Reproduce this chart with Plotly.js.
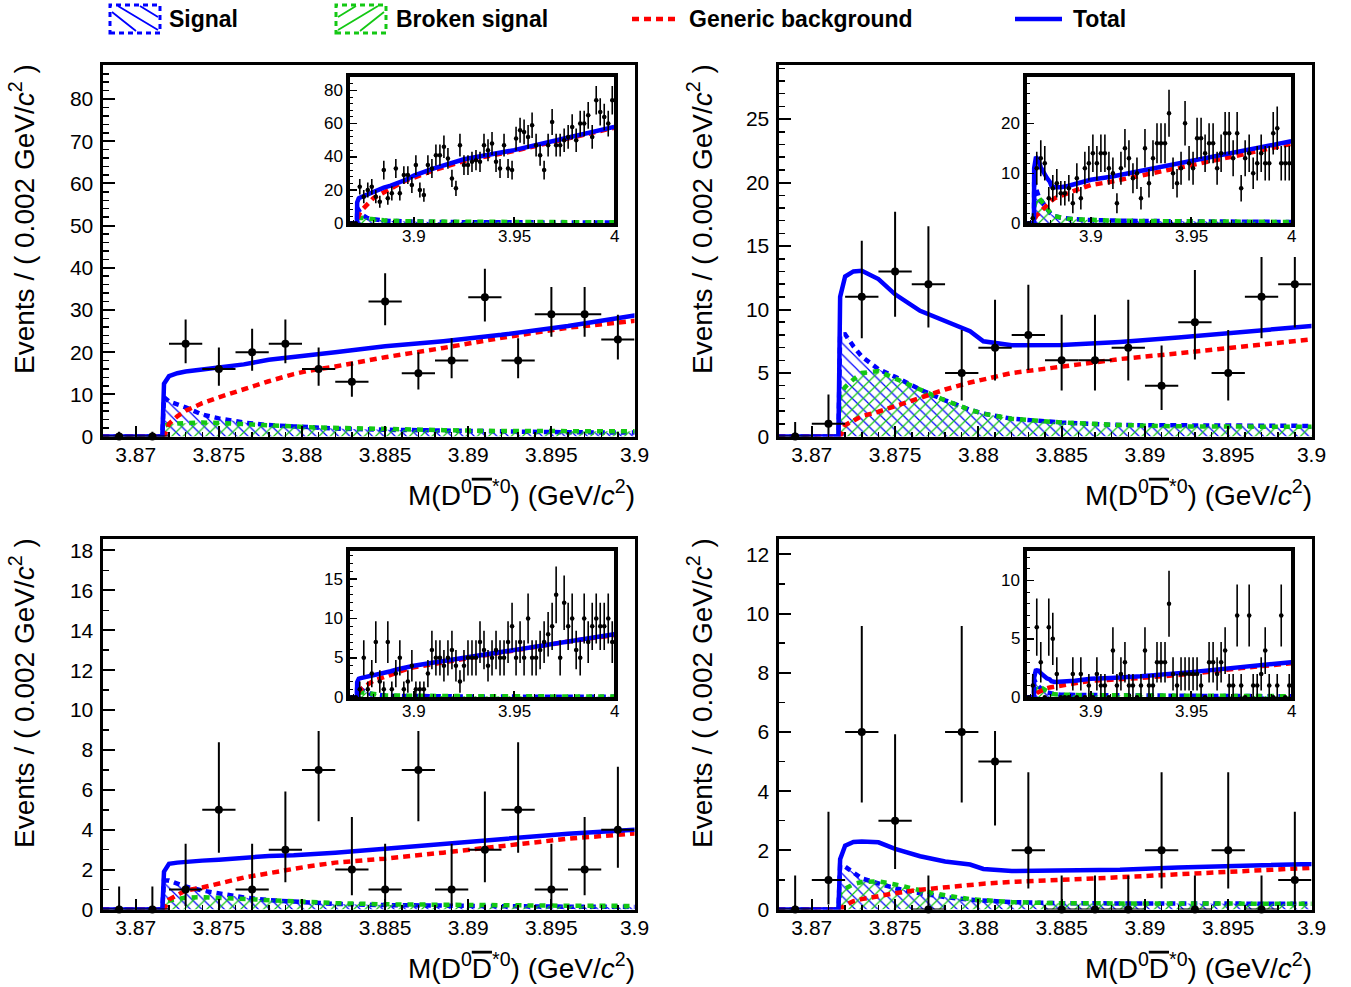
<!DOCTYPE html>
<html><head><meta charset="utf-8">
<script src="https://cdn.plot.ly/plotly-3.0.1.min.js"></script>
<style>html,body{margin:0;padding:0;background:#fff}#chart{width:1351px;height:987px}</style>
</head><body><div id="chart"></div>
<script>
// ---------- data ----------
const binCenters = [3.869,3.871,3.873,3.875,3.877,3.879,3.881,3.883,3.885,3.887,3.889,3.891,3.893,3.895,3.897,3.899];
const insetBinCenters = [3.869,3.871,3.873,3.875,3.877,3.879,3.881,3.883,3.885,3.887,3.889,3.891,3.893,3.895,3.897,3.899,
 3.901,3.903,3.905,3.907,3.909,3.911,3.913,3.915,3.917,3.919,3.921,3.923,3.925,3.927,3.929,3.931,3.933,3.935,3.937,3.939,
 3.941,3.943,3.945,3.947,3.949,3.951,3.953,3.955,3.957,3.959,3.961,3.963,3.965,3.967,3.969,3.971,3.973,3.975,3.977,3.979,
 3.981,3.983,3.985,3.987,3.989,3.991,3.993,3.995,3.997,3.999];

const tlCounts = [0,0,22,16,20,22,16,13,32,15,18,33,18,29,29,23];
const tlErrLo  = [0,0,4.66,3.96,4.43,4.66,3.96,3.56,5.63,3.83,4.20,5.72,4.20,5.36,5.36,4.76];
const tlErrHi  = [1.15,1.15,5.76,5.09,5.55,5.76,5.09,4.70,6.71,4.96,5.32,6.79,5.32,6.44,6.44,5.86];
const tlTail   = [35,20,17,35,33,41,41,46,39,27,21,47,35,35,37,38,37,47,44,48,37,33,47,33,32,51,56,55,52,59,47,41,32,47,61,47,47,50,52,58,50,60,60,65,52,74,67,64,60,74];

const trCounts = [0,1,11,13,12,5,7,8,6,6,7,4,9,5,11,12];
const trErrLo  = [0,0.83,3.27,3.56,3.42,2.16,2.58,2.77,2.38,2.38,2.58,1.91,2.94,2.16,3.27,3.42];
const trErrHi  = [1.15,2.30,4.42,4.70,4.56,3.38,3.77,3.95,3.58,3.58,3.77,3.16,4.11,3.38,4.42,4.56];
const trTail   = [14,12,14,14,11,10,4,11,15,13,9,10,5,15,8,13,16,16,16,22,10,8,11,20,12,11,17,17,14,16,16,11,14,18,18,13,18,7,13,14,10,12,14,12,12,18,19,12,12,12];

const blCounts = [0,0,1,5,1,3,7,2,1,7,1,3,5,1,2,4];
const blErrLo  = [0,0,0.83,2.16,0.83,1.63,2.58,1.29,0.83,2.58,0.83,1.63,2.16,0.83,1.29,1.91];
const blErrHi  = [1.15,1.15,2.30,3.38,2.30,2.92,3.77,2.64,2.30,3.77,2.30,2.92,3.38,2.30,2.64,3.16];
const blTail   = [1,1,1,3,6,5,5,4,5,6,4,2,4,5,5,5,7,6,4,5,6,5,5,7,9,5,7,5,10,5,5,6,7,8,9,13,5,12,9,10,6,5,10,7,9,10,9,9,10,7];

const brCounts = [0,1,6,3,0,6,5,2,0,0,0,2,0,2,0,1];
const brErrLo  = [0,0.83,2.38,1.63,0,2.38,2.16,1.29,0,0,0,1.29,0,1.29,0,0.83];
const brErrHi  = [1.15,2.30,3.58,2.92,1.15,3.58,3.38,2.64,1.15,1.15,1.15,2.64,1.15,2.64,1.15,2.30];
const brTail   = [0,2,1,1,0,4,1,2,3,1,1,0,1,4,1,1,3,3,3,8,2,1,2,2,2,2,2,1,0,3,3,2,3,4,1,1,7,1,0,7,1,1,2,4,1,0,1,7,0,1];

// fitted curves
const curveX = [3.868,3.8716,3.8717,3.872,3.8725,3.873,3.874,3.875,3.8765,3.878,3.8795,3.8803,3.882,3.885,3.8885,3.892,3.896,3.9,3.91,3.925,3.95,3.975,4.0];

const tlTotal = [0,0,12.5,14.3,15.0,15.4,15.9,16.3,17.1,18.2,18.8,19.1,20.0,21.4,22.6,24.1,26.2,28.7,33,38.5,44,51,58];
const tlBkg   = [0,0,0,3.0,4.8,6.1,7.9,9.3,11.3,13.1,14.8,15.5,16.6,18.8,21.0,23.4,25.8,27.4,32,37.5,43.5,50.5,57.5];
const tlSig   = [0,0,9.3,8.3,7.6,6.9,5.2,4.3,3.3,2.7,2.4,2.2,1.9,1.6,1.35,1.15,1.0,0.94,0.8,0.65,0.5,0.45,0.4];
const tlBrk   = [0,0,2.5,2.9,3.1,3.2,3.3,3.2,3.0,2.7,2.4,2.2,2.0,1.75,1.5,1.3,1.15,1.1,1.0,0.85,0.7,0.6,0.55];

const trTotal = [0,0,11.0,12.6,13.0,13.05,12.4,11.2,9.9,9.1,8.3,7.5,7.18,7.2,7.45,7.8,8.25,8.7,9.3,10.5,12.3,14.3,16.4];
const trBkg   = [0,0,0,0.9,1.3,1.6,1.95,2.4,3.0,3.7,4.25,4.5,5.0,5.5,6.1,6.55,7.1,7.66,8.3,9.6,11.6,13.7,15.9];
const trSig   = [0,0,8.0,8.05,7.1,6.3,5.3,4.7,3.7,2.85,2.1,1.8,1.4,1.1,0.9,0.8,0.7,0.63,0.55,0.45,0.35,0.3,0.25];
const trBrk   = [0,0,3.3,3.9,4.5,5.0,5.15,4.6,3.7,2.85,2.1,1.8,1.4,1.1,0.9,0.8,0.7,0.63,0.55,0.45,0.35,0.3,0.25];

const blTotal = [0,0,1.9,2.29,2.35,2.4,2.45,2.5,2.6,2.68,2.72,2.75,2.85,3.05,3.3,3.55,3.8,4.0,4.4,5.0,6.1,7.1,8.0];
const blBkg   = [0,0,0,0.5,0.75,0.95,1.1,1.3,1.6,1.82,2.05,2.15,2.35,2.55,2.85,3.2,3.55,3.81,4.25,4.9,6.0,7.0,7.9];
const blSig   = [0,0,1.45,1.45,1.3,1.15,0.95,0.8,0.6,0.47,0.38,0.34,0.28,0.22,0.18,0.16,0.14,0.13,0.12,0.1,0.08,0.07,0.06];
const blBrk   = [0,0,0.4,0.45,0.55,0.6,0.62,0.58,0.52,0.46,0.4,0.37,0.32,0.26,0.22,0.2,0.19,0.18,0.16,0.14,0.12,0.1,0.09];

const brTotal = [0,0,1.7,2.16,2.28,2.3,2.27,2.05,1.8,1.62,1.52,1.37,1.3,1.31,1.34,1.42,1.5,1.58,1.65,1.8,2.15,2.6,3.0];
const brBkg   = [0,0,0,0.15,0.28,0.35,0.46,0.55,0.67,0.76,0.84,0.87,0.93,1.02,1.09,1.19,1.3,1.41,1.5,1.65,2.0,2.5,2.9];
const brSig   = [0,0,1.5,1.45,1.25,1.05,0.88,0.72,0.55,0.42,0.33,0.3,0.25,0.21,0.2,0.19,0.18,0.18,0.16,0.14,0.12,0.1,0.09];
const brBrk   = [0,0,0.55,0.7,0.86,0.93,0.95,0.85,0.65,0.48,0.35,0.31,0.25,0.21,0.2,0.19,0.18,0.18,0.16,0.14,0.12,0.1,0.09];

const xTickVals = [3.87,3.875,3.88,3.885,3.89,3.895,3.9];
const xTickText = ['3.87','3.875','3.88','3.885','3.89','3.895','3.9'];
const insetTickVals = [3.9,3.95,4.0];
const insetTickText = ['3.9','3.95','4'];
const tlInsetYTicks = [0,20,40,60,80];
const trInsetYTicks = [0,10,20];
const blInsetYTicks = [0,5,10,15];
const brInsetYTicks = [0,5,10];
const legendLabels = ['Signal','Broken signal','Generic background','Total'];

// ---------- layout helpers ----------
const W = 1351, H = 987;
const px = v => v / W;
const py = v => 1 - v / H;
const FONT = 'Liberation Sans, Arial, Helvetica, sans-serif';
const BLUE = '#0000ff', RED = '#ff0000', GREEN = '#14c814';

const panels = [
  {counts: tlCounts, lo: tlErrLo, hi: tlErrHi, tail: tlTail, total: tlTotal, bkg: tlBkg, sig: tlSig, brk: tlBrk, inTicks: tlInsetYTicks,
   frame: [101,636,63,438], inset: [348,616,75,225], yMax: 88.2, yDtick: 10, yMinor: 2, inDtick: 20, inMinor: 4,
   xt: [637,493], yt: [22,219]},
  {counts: trCounts, lo: trErrLo, hi: trErrHi, tail: trTail, total: trTotal, bkg: trBkg, sig: trSig, brk: trBrk, inTicks: trInsetYTicks,
   frame: [777,1313,63,438], inset: [1025,1293,75,225], yMax: 29.3, yDtick: 5, yMinor: 1, inDtick: 10, inMinor: 2,
   xt: [1314,493], yt: [700,219]},
  {counts: blCounts, lo: blErrLo, hi: blErrHi, tail: blTail, total: blTotal, bkg: blBkg, sig: blSig, brk: blBrk, inTicks: blInsetYTicks,
   frame: [101,636,537,911], inset: [348,616,549,699], yMax: 18.6, yDtick: 2, yMinor: 1, inDtick: 5, inMinor: 1,
   xt: [637,966], yt: [22,693]},
  {counts: brCounts, lo: brErrLo, hi: brErrHi, tail: brTail, total: brTotal, bkg: brBkg, sig: brSig, brk: brBrk, inTicks: brInsetYTicks,
   frame: [777,1313,537,911], inset: [1025,1293,549,699], yMax: 12.54, yDtick: 2, yMinor: 1, inDtick: 5, inMinor: 1,
   xt: [1314,966], yt: [700,693]}
];

const traces = [];
const layout = {
  width: W, height: H, margin: {l:0,r:0,t:0,b:0},
  paper_bgcolor: 'white', plot_bgcolor: 'white', showlegend: false,
  font: {family: FONT, color: 'black'},
  annotations: [], shapes: []
};

function curveTraces(p, xa, ya, lw) {
  return [
    {type:'scatter', mode:'lines', x: curveX, y: p.sig, xaxis: xa, yaxis: ya, name: legendLabels[0],
     line: {color: BLUE, width: lw, dash: '6px,5px'}, fill: 'tozeroy', fillcolor: 'rgba(0,0,0,0)',
     fillpattern: {shape: '\\', fgcolor: BLUE, bgcolor: 'rgba(0,0,0,0)', size: 8, solidity: 0.15}, hoverinfo:'skip'},
    {type:'scatter', mode:'lines', x: curveX, y: p.brk, xaxis: xa, yaxis: ya, name: legendLabels[1],
     line: {color: GREEN, width: lw, dash: '6px,6px'}, fill: 'tozeroy', fillcolor: 'rgba(0,0,0,0)',
     fillpattern: {shape: '/', fgcolor: GREEN, bgcolor: 'rgba(0,0,0,0)', size: 8, solidity: 0.15}, hoverinfo:'skip'},
    {type:'scatter', mode:'lines', x: curveX, y: p.bkg, xaxis: xa, yaxis: ya, name: legendLabels[2],
     line: {color: RED, width: lw, dash: '7px,5px'}, hoverinfo:'skip'},
    {type:'scatter', mode:'lines', x: curveX, y: p.total, xaxis: xa, yaxis: ya, name: legendLabels[3],
     line: {color: BLUE, width: lw}, hoverinfo:'skip'}
  ];
}

function whiteRect(x0, x1, y0, y1) {
  return {type:'rect', xref:'paper', yref:'paper', layer:'above', x0: px(x0), x1: px(x1), y0: py(y1), y1: py(y0),
    fillcolor:'#ffffff', line:{width:0, color:'rgba(0,0,0,0)'}};
}

panels.forEach((p, i) => {
  const n = i + 1, m = i + 5;
  const xa = 'x' + (n === 1 ? '' : n), ya = 'y' + (n === 1 ? '' : n);
  const xi = 'x' + m, yi = 'y' + m;
  const [L, R, T, B] = p.frame;
  const [iL, iR, iT, iB] = p.inset;

  // main axes
  layout['xaxis' + (n === 1 ? '' : n)] = {
    domain: [px(L + 1.5), px(R - 1.5)], anchor: ya, range: [3.868, 3.9],
    tickmode: 'array', tickvals: xTickVals, ticktext: xTickText,
    ticks: 'inside', ticklen: 11, tickwidth: 2, tickcolor: 'black', ticklabelstandoff: -3,
    minor: {ticks: 'inside', tick0: 3.87, dtick: 0.001, ticklen: 5, tickwidth: 1.5, tickcolor: 'black', showgrid: false},
    showline: true, mirror: true, linewidth: 3, linecolor: 'black',
    showgrid: false, zeroline: false, tickfont: {size: 21, family: FONT, color: 'black'}, fixedrange: true
  };
  layout['yaxis' + (n === 1 ? '' : n)] = {
    domain: [py(B - 1.5), py(T + 1.5)], anchor: xa, range: [0, p.yMax],
    tickmode: 'linear', tick0: 0, dtick: p.yDtick, ticklabelstandoff: 2,
    ticks: 'inside', ticklen: 12, tickwidth: 2, tickcolor: 'black',
    minor: {ticks: 'inside', tick0: 0, dtick: p.yMinor, ticklen: 6, tickwidth: 1.5, tickcolor: 'black', showgrid: false},
    showline: true, mirror: true, linewidth: 3, linecolor: 'black',
    showgrid: false, zeroline: false, tickfont: {size: 21, family: FONT, color: 'black'}, fixedrange: true
  };
  // inset axes (tick labels drawn as annotations so they sit above the inset's white pad)
  layout['xaxis' + m] = {
    domain: [px(iL + 1.75), px(iR - 1.75)], anchor: yi, range: [3.868, 4.0],
    tickmode: 'array', tickvals: insetTickVals, showticklabels: false,
    ticks: 'inside', ticklen: 6, tickwidth: 1.5, tickcolor: 'black',
    minor: {ticks: 'inside', tick0: 3.87, dtick: 0.01, ticklen: 3, tickwidth: 1, tickcolor: 'black', showgrid: false},
    showline: true, mirror: true, linewidth: 3.5, linecolor: 'black',
    showgrid: false, zeroline: false, fixedrange: true
  };
  layout['yaxis' + m] = {
    domain: [py(iB - 1.75), py(iT + 1.75)], anchor: xi, range: [0, p.yMax],
    tickmode: 'linear', tick0: 0, dtick: p.inDtick, showticklabels: false,
    ticks: 'inside', ticklen: 7, tickwidth: 1.5, tickcolor: 'black',
    minor: {ticks: 'inside', tick0: 0, dtick: p.inMinor, ticklen: 3.5, tickwidth: 1, tickcolor: 'black', showgrid: false},
    showline: true, mirror: true, linewidth: 3.5, linecolor: 'black',
    showgrid: false, zeroline: false, fixedrange: true
  };

  // main traces
  traces.push(...curveTraces(p, xa, ya, 4.5));
  traces.push({type:'scatter', mode:'markers', x: binCenters, y: p.counts, xaxis: xa, yaxis: ya, name:'Data',
    marker: {color:'black', size: 8}, cliponaxis: false, hoverinfo:'skip',
    error_y: {type:'data', symmetric:false, array: p.hi, arrayminus: p.lo, color:'black', thickness: 2, width: 0},
    error_x: {type:'constant', value: 0.001, color:'black', thickness: 2, width: 0}});

  // inset traces
  traces.push(...curveTraces(p, xi, yi, 4.5));
  traces.push({type:'scatter', mode:'markers', x: insetBinCenters, y: p.counts.concat(p.tail), xaxis: xi, yaxis: yi, name:'Data',
    marker: {color:'black', size: 4.5}, cliponaxis: false, hoverinfo:'skip',
    error_y: {type:'sqrt', color:'black', thickness: 1.6, width: 0},
    error_x: {type:'constant', value: 0.001, color:'black', thickness: 1.3, width: 0}});

  // white pad of the inset: four strips around the inset frame hide the main plot behind it
  const oL = iL - 42, oR = iR + 14, oT = iT - 8, oB = iB + 32;
  const hL = iL - 2, hR = iR + 2, hT = iT - 2, hB = iB + 2;
  layout.shapes.push(whiteRect(oL, oR, hB, oB));
  layout.shapes.push(whiteRect(oL, hL, oT, hB));
  layout.shapes.push(whiteRect(hR, oR, oT, hB));
  layout.shapes.push(whiteRect(hL, hR, oT, hT));
  // inset tick labels
  insetTickVals.forEach((v, k) => layout.annotations.push({xref: xi, yref: 'paper', x: v, y: py(iB + 12),
    xanchor: 'center', yanchor: 'middle', showarrow: false, text: insetTickText[k], font: {size: 17, family: FONT, color: 'black'}}));
  p.inTicks.forEach(v => layout.annotations.push({xref: 'paper', yref: yi, x: px(iL - 3), y: v,
    xanchor: 'right', yanchor: 'middle', showarrow: false, text: String(v), font: {size: 17, family: FONT, color: 'black'}}));

  // titles
  layout.annotations.push({
    xref:'paper', yref:'paper', x: px(p.xt[0]), y: py(p.xt[1]), xanchor:'right', yanchor:'middle', showarrow:false,
    text: 'M(D<sup>0</sup><span style="text-decoration:overline">D</span><sup>*0</sup>) (GeV/<i>c</i><sup>2</sup>)',
    font: {size: 28, family: FONT, color:'black'}
  });
  layout.annotations.push({
    xref:'paper', yref:'paper', x: px(p.yt[0]), y: py(p.yt[1]), xanchor:'center', yanchor:'middle', showarrow:false,
    textangle: -90, text: 'Events / ( 0.002 GeV/<i>c</i><sup>2</sup> )',
    font: {size: 28, family: FONT, color:'black'}
  });
});

// ---------- legend (drawn as decoration) ----------
const legFont = {size: 23, family: FONT, color:'black', weight: 'bold'};
const legText = [[167, legendLabels[0]], [394, legendLabels[1]], [687, legendLabels[2]], [1071, legendLabels[3]]];
legText.forEach(([x, t]) => layout.annotations.push({xref:'paper', yref:'paper', x: px(x), y: py(19), xanchor:'left', yanchor:'middle',
  showarrow:false, text: '<b>' + t + '</b>', font: legFont}));

function P(x, y) { return px(x) + ',' + py(y); }
// Signal box
layout.shapes.push({type:'rect', xref:'paper', yref:'paper', x0: px(110), x1: px(160), y0: py(33), y1: py(5),
  line: {color: BLUE, width: 3, dash: '5px,4px'}, fillcolor: 'rgba(0,0,0,0)'});
layout.shapes.push({type:'path', xref:'paper', yref:'paper', line: {color: BLUE, width: 1.8},
  path: 'M' + P(112,12) + 'L' + P(136,31) + 'M' + P(118,6) + 'L' + P(158,30) + 'M' + P(140,6) + 'L' + P(158,17)});
// Broken signal box
layout.shapes.push({type:'rect', xref:'paper', yref:'paper', x0: px(336), x1: px(386), y0: py(33), y1: py(5),
  line: {color: GREEN, width: 3, dash: '5px,4px'}, fillcolor: 'rgba(0,0,0,0)'});
layout.shapes.push({type:'path', xref:'paper', yref:'paper', line: {color: GREEN, width: 1.8},
  path: 'M' + P(338,17) + 'L' + P(356,6) + 'M' + P(338,30) + 'L' + P(378,6) + 'M' + P(360,31) + 'L' + P(384,12)});
// Generic background line
layout.shapes.push({type:'line', xref:'paper', yref:'paper', x0: px(632), x1: px(680), y0: py(19), y1: py(19),
  line: {color: RED, width: 4.5, dash: '7px,5px'}});
// Total line
layout.shapes.push({type:'line', xref:'paper', yref:'paper', x0: px(1015), x1: px(1062), y0: py(19), y1: py(19),
  line: {color: BLUE, width: 4.5}});

Plotly.newPlot('chart', traces, layout, {displayModeBar: false, staticPlot: true});
</script>
</body></html>
